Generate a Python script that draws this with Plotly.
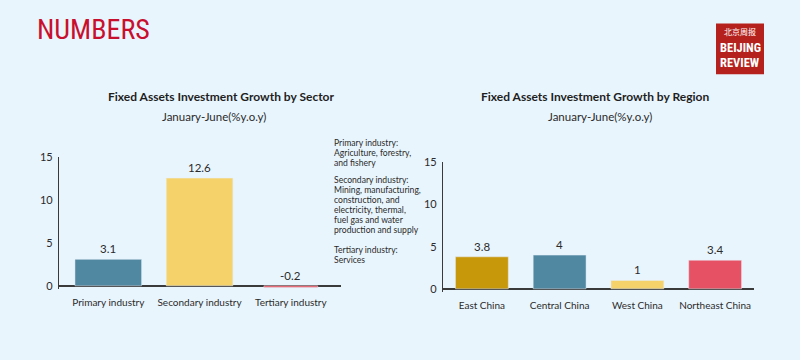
import plotly.graph_objects as go

W, H = 800, 360

sectors = ["Primary industry", "Secondary industry", "Tertiary industry"]
sector_growth = [3.1, 12.6, -0.2]
sector_colors = ["#5087a1", "#f5d36a", "#e4525f"]

regions = ["East China", "Central China", "West China", "Northeast China"]
region_growth = [3.8, 4, 1, 3.4]
region_colors = ["#c8980b", "#5087a1", "#f5d36a", "#e65263"]

y_ticks = [0, 5, 10, 15]

note_primary = ["Primary industry:", "Agriculture, forestry,", "and fishery"]
note_secondary = ["Secondary industry:", "Mining, manufacturing,", "construction, and",
                  "electricity, thermal,", "fuel gas and water", "production and supply"]
note_tertiary = ["Tertiary industry:", "Services"]

FONT = "Lato, 'Open Sans', 'Noto Sans', sans-serif"
COND = "'Roboto Condensed', 'DejaVu Sans Condensed', 'Liberation Sans Narrow', sans-serif"
TXT = "#2b2b2b"
BG = "#e9f5fd"


def px(x):
    return x / W


def py(y):
    return 1 - y / H


def paper_text(x, y, text, size, color=TXT, family=FONT, xanchor="center", yanchor="middle"):
    return dict(x=px(x), y=py(y), xref="paper", yref="paper", text=text, showarrow=False,
                xanchor=xanchor, yanchor=yanchor, align="left" if xanchor == "left" else "center",
                font=dict(size=size, color=color, family=family))


fig = go.Figure()
fig.add_trace(go.Bar(
    x=sectors, y=sector_growth, marker_color=sector_colors,
    width=[0.73, 0.73, 0.59], xaxis="x", yaxis="y", hoverinfo="x+y",
))
fig.add_trace(go.Bar(
    x=regions, y=region_growth, marker_color=region_colors,
    width=0.68, xaxis="x2", yaxis="y2", hoverinfo="x+y",
))

annotations = []
for c, v in zip(sectors, sector_growth):
    annotations.append(dict(x=c, y=max(v, 0), xref="x", yref="y", text=f"{v:g}",
                            showarrow=False, xanchor="center", yanchor="bottom", yshift=2,
                            font=dict(size=11.5, color=TXT, family=FONT)))
for c, v in zip(regions, region_growth):
    annotations.append(dict(x=c, y=max(v, 0), xref="x2", yref="y2", text=f"{v:g}",
                            showarrow=False, xanchor="center", yanchor="bottom", yshift=2,
                            font=dict(size=11.5, color=TXT, family=FONT)))

# Header
annotations.append(paper_text(35, 23, "NUMBERS", 28, color="#c8102e", family=COND, xanchor="left"))

# Titles
annotations.append(paper_text(221, 92, "<b>Fixed Assets Investment Growth by Sector</b>", 12, color="#1e1e1e"))
annotations.append(paper_text(595, 92, "<b>Fixed Assets Investment Growth by Region</b>", 12, color="#1e1e1e"))
annotations.append(paper_text(214, 112, "January-June(%y.o.y)", 11.5))
annotations.append(paper_text(600, 112, "January-June(%y.o.y)", 11.5))

# Notes (one annotation per line)
for block, y0 in [(note_primary, 139), (note_secondary, 177), (note_tertiary, 249)]:
    for i, line in enumerate(block):
        annotations.append(paper_text(332, y0 + i * 10.4, line, 8.6, xanchor="left"))

# Logo
annotations.append(paper_text(740, 25, "北京周报", 8, color="white", family="'Noto Sans CJK SC', sans-serif"))
annotations.append(paper_text(740, 42, "<b>BEIJING</b>", 12.5, color="white", family=COND))
annotations.append(paper_text(740, 57, "<b>REVIEW</b>", 12.5, color="white", family=COND))

shapes = [dict(type="rect", xref="paper", yref="paper", x0=px(716), x1=px(764),
               y0=py(69), y1=py(17), fillcolor="#b5211c", line=dict(width=0), layer="below")]

axis_y_common = dict(
    range=[-0.4, 15.05], tickvals=y_ticks, showgrid=False, showline=True,
    linecolor="#3a3a3a", linewidth=1.2, zeroline=True, zerolinecolor="#3a3a3a",
    zerolinewidth=1.5, ticks="", tickfont=dict(size=11, color=TXT, family=FONT),
    ticklabelstandoff=3,
)
axis_x_common = dict(
    showgrid=False, showline=False, zeroline=False, ticks="",
    tickfont=dict(size=10, color=TXT, family=FONT), ticklabelstandoff=6,
)

fig.update_layout(
    width=W, height=H, margin=dict(l=0, r=0, t=0, b=0),
    paper_bgcolor=BG, plot_bgcolor=BG, showlegend=False, bargap=0.3,
    xaxis=dict(domain=[px(59), px(341)], range=[-0.54, 2.55], anchor="y", **axis_x_common),
    yaxis=dict(domain=[py(289.5), py(154)], anchor="x", **axis_y_common),
    xaxis2=dict(domain=[px(443), px(754)], range=[-0.5, 3.5], anchor="y2", **axis_x_common),
    yaxis2=dict(domain=[py(292.5), py(159)], anchor="x2", **axis_y_common),
    annotations=annotations, shapes=shapes,
)

fig.write_html("out.html", config={"displayModeBar": False},
               post_script="document.body.style.margin='0';")
